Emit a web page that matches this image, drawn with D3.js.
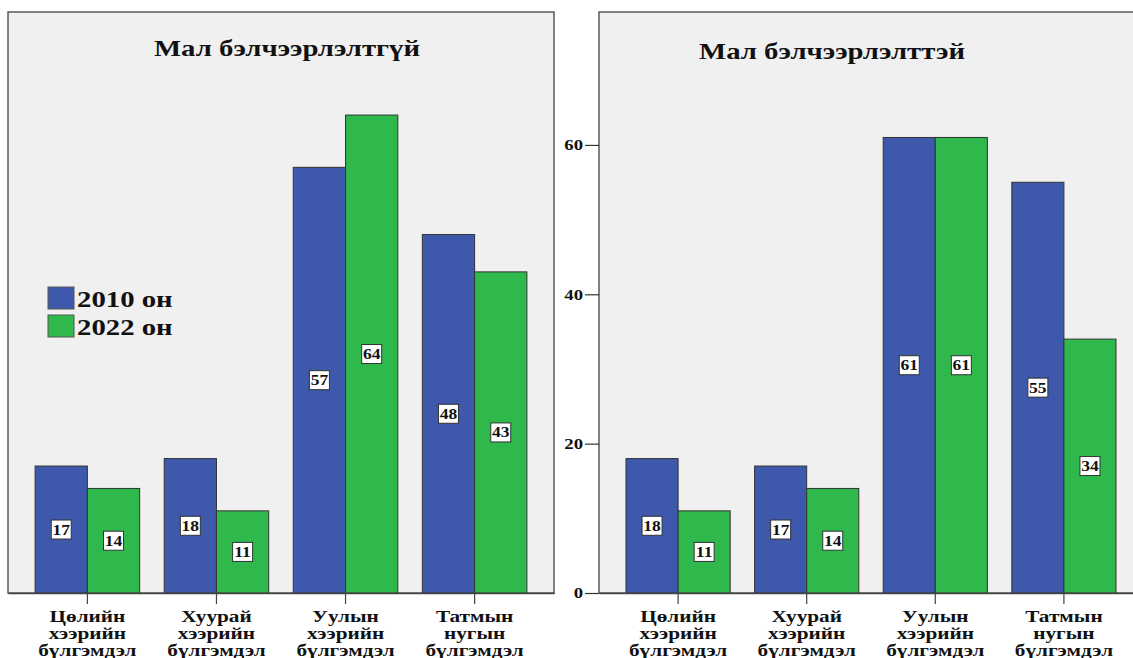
<!DOCTYPE html>
<html>
<head>
<meta charset="utf-8">
<script src="https://cdn.jsdelivr.net/npm/d3@7"></script>
<style>
  body { margin: 0; background: #fff; }
  text { font-family: "Liberation Serif", "Times New Roman", serif; font-weight: bold; fill: #111; }
</style>
</head>
<body>
<div id="chart"></div>
<script>
var width = 1133,
    height = 658;

// data
var categories = ["Цөлийн хээрийн бүлгэмдэл", "Хуурай хээрийн бүлгэмдэл", "Уулын хээрийн бүлгэмдэл", "Татмын нугын бүлгэмдэл"];
var years = ["2010 он", "2022 он"];
var without2010 = [17, 18, 57, 48];
var without2022 = [14, 11, 64, 43];
var with2010 = [18, 17, 61, 55];
var with2022 = [11, 14, 61, 34];
var yTicks = [0, 20, 40, 60];

var colors = ["#3e58ab", "#2fb84b"];
var stretchK = 1.25; // the picture is a little wide, so text gets stretched

var svg = d3.select("#chart")
  .append("svg")
  .attr("width", width)
  .attr("height", height);

function stretch(sel, k) {
  sel.each(function() {
    var len = this.getComputedTextLength();
    d3.select(this).attr("textLength", len * k).attr("lengthAdjust", "spacingAndGlyphs");
  });
}

// both panels share the same y scale
var yScale = d3.scaleLinear()
  .domain([0, 77.8])
  .range([593, 12]);

function drawPanel(x0, x1, title, titleX, titleY, s1, s2, showAxis, showRight) {
  var g = svg.append("g");

  g.append("rect")
    .attr("x", x0).attr("y", 12)
    .attr("width", x1 - x0).attr("height", 593 - 12)
    .attr("fill", "#f0f0f0")
    .attr("stroke", showRight ? "#5a5a5a" : "none")
    .attr("stroke-width", 1.5);

  if (!showRight) {
    // only left, top and bottom edges are visible here
    g.append("path")
      .attr("d", "M" + (width + 5) + ",12H" + x0 + "V593H" + (width + 5))
      .attr("fill", "none")
      .attr("stroke", "#5a5a5a")
      .attr("stroke-width", 1.5);
  }

  var xScale = d3.scaleBand()
    .domain(categories)
    .range([x0, x1])
    .paddingInner(0.19)
    .paddingOuter(0.21);

  var xSub = d3.scaleBand()
    .domain([0, 1])
    .range([0, xScale.bandwidth()]);

  var rows = [];
  categories.forEach(function(c, i) {
    rows.push({cat: c, s: 0, v: s1[i]});
    rows.push({cat: c, s: 1, v: s2[i]});
  });

  g.selectAll("rect.bar")
    .data(rows)
    .enter()
    .append("rect")
    .attr("class", "bar")
    .attr("x", function(d) { return xScale(d.cat) + xSub(d.s); })
    .attr("y", function(d) { return yScale(d.v); })
    .attr("width", xSub.bandwidth())
    .attr("height", function(d) { return yScale(0) - yScale(d.v); })
    .attr("fill", function(d) { return colors[d.s]; })
    .attr("stroke", "#333")
    .attr("stroke-width", 1);

  // value boxes in the middle of each bar
  var lab = g.selectAll("g.lab")
    .data(rows)
    .enter()
    .append("g")
    .attr("class", "lab")
    .attr("transform", function(d) {
      return "translate(" + (xScale(d.cat) + xSub(d.s) + xSub.bandwidth() / 2) + "," + yScale(d.v / 2) + ")";
    });

  lab.append("rect")
    .attr("x", -10).attr("y", -9.5)
    .attr("width", 20).attr("height", 19)
    .attr("fill", "#fff")
    .attr("stroke", "#333")
    .attr("stroke-width", 1);

  lab.append("text")
    .attr("text-anchor", "middle")
    .attr("y", 5)
    .style("font-size", "14px")
    .text(function(d) { return d.v; })
    .call(stretch, stretchK);

  // x axis: tick marks at the group centres plus three-line labels
  var xAxis = d3.axisBottom(xScale)
    .tickSize(11)
    .tickSizeOuter(0)
    .tickFormat("");

  var ax = g.append("g")
    .attr("transform", "translate(0,593)")
    .call(xAxis);
  ax.select(".domain").attr("stroke", "#444").attr("stroke-width", 1.5);
  ax.selectAll(".tick line").attr("stroke", "#444").attr("stroke-width", 1.2);

  ax.selectAll(".tick").each(function(c) {
    var t = d3.select(this);
    c.split(" ").forEach(function(w, k) {
      t.append("text")
        .attr("text-anchor", "middle")
        .attr("y", 29 + k * 17)
        .style("font-size", "17px")
        .text(w)
        .call(stretch, stretchK);
    });
  });

  if (showAxis) {
    var yAxis = d3.axisLeft(yScale)
      .tickValues(yTicks)
      .tickSize(14)
      .tickPadding(2)
      .tickSizeOuter(0);
    var ay = g.append("g")
      .attr("transform", "translate(" + x0 + ",0)")
      .call(yAxis);
    ay.select(".domain").remove();
    ay.selectAll(".tick line").attr("stroke", "#333").attr("stroke-width", 1.2);
    ay.selectAll(".tick text")
      .attr("fill", "#111")
      .style("font-family", "Liberation Serif, serif")
      .style("font-weight", "bold")
      .style("font-size", "15px")
      .call(stretch, stretchK);
  }

  g.append("text")
    .attr("x", titleX)
    .attr("y", titleY)
    .attr("text-anchor", "middle")
    .style("font-size", "23px")
    .text(title)
    .call(stretch, stretchK);

  return g;
}

var left = drawPanel(8, 554, "Мал бэлчээрлэлтгүй", 287, 56, without2010, without2022, false, true);
drawPanel(599, 1143, "Мал бэлчээрлэлттэй", 832, 59, with2010, with2022, true, false);

// legend in the left panel
var legend = left.selectAll("g.legend")
  .data(years)
  .enter()
  .append("g")
  .attr("class", "legend")
  .attr("transform", function(d, i) { return "translate(48," + (287 + i * 28) + ")"; });

legend.append("rect")
  .attr("width", 26)
  .attr("height", 22)
  .attr("fill", function(d, i) { return colors[i]; })
  .attr("stroke", "#555")
  .attr("stroke-width", 1);

legend.append("text")
  .attr("x", 29)
  .attr("y", 20)
  .style("font-size", "23px")
  .text(function(d) { return d; })
  .call(stretch, stretchK);
</script>
</body>
</html>
